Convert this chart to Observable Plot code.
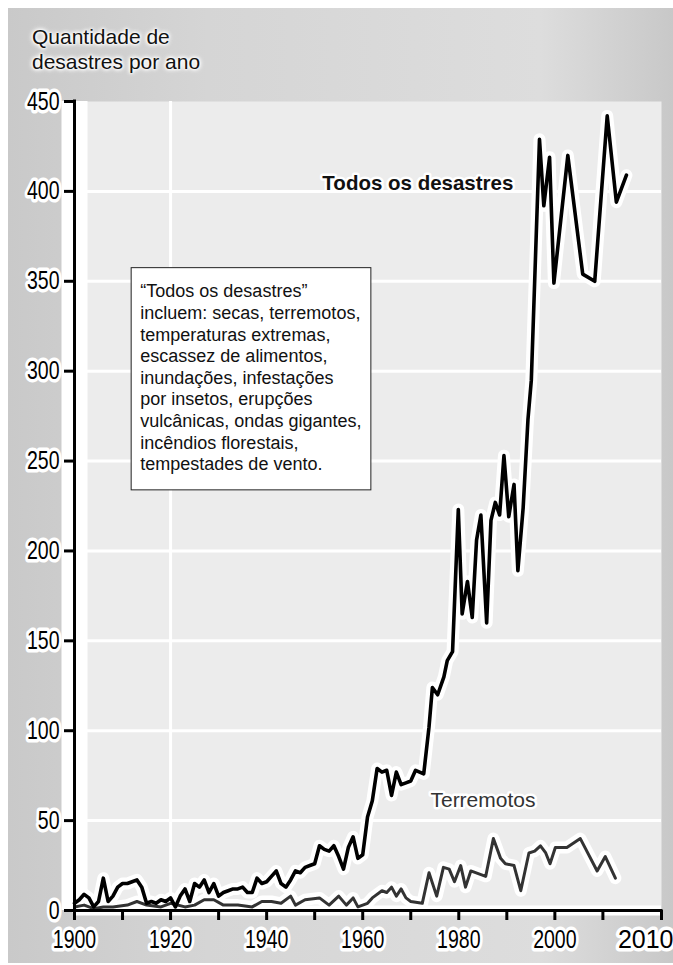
<!DOCTYPE html>
<html>
<head>
<meta charset="utf-8">
<script src="https://cdn.jsdelivr.net/npm/d3@7"></script>
<script src="https://cdn.jsdelivr.net/npm/@observablehq/plot@0.6"></script>
<style>
html, body { margin: 0; padding: 0; background: #fff; }
#wrap { position: relative; width: 673px; height: 965px; overflow: hidden; background: #fff; }
#bg { position: absolute; left: 8px; top: 8px; right: 0; bottom: 2px;
  background: linear-gradient(90deg, #c9c9c9 0, #d5d5d5 30%, #dddddd 80%, #c8c8c8 100%); }
#chart { position: absolute; left: 0; top: 0; }
#title { position: absolute; left: 32px; top: 24px; font: 21px/25px "Liberation Sans", Arial, sans-serif; color: #111;
  text-shadow: 0 0 2px #fff, 0 0 3px #fff, 0 0 4px #fff, 0 0 5px #fff, 0 0 6px #fff; }
</style>
</head>
<body>
<div id="wrap">
  <div id="bg"></div>
  <div id="chart"></div>
  <div id="title">Quantidade de<br>desastres por ano</div>
</div>
<script>
// ---- data ----
const allYears = [1900,1901,1902,1903,1904,1905,1906,1907,1908,1909,1910,1911,1912,1913,1914,1915,1916,1917,1918,1919,
  1920,1921,1922,1923,1924,1925,1926,1927,1928,1929,1930,1931,1932,1933,1934,1935,1936,1937,1938,1939,
  1940,1941,1942,1943,1944,1945,1946,1947,1948,1949,1950,1951,1952,1953,1954,1955,1956,1957,1958,1959,
  1960,1961,1962,1963,1964,1965,1966,1967,1968,1969,1970,1971,1972.7,1973.8,1974.5,1975.6,1976.9,1977.6,1978.7,
  1979.9,1980.7,1981.8,1982.8,1983.7,1984.6,1985.8,1986.7,1987.6,1988.5,1989.4,1990.4,1991.5,1992.3,1993.4,1994.4,1995.1,
  1996.8,1997.7,1998.9,1999.8,2002.7,2005.8,2008.3,2010.9,2012.8,2014.9];
const allValues = [4,6,9,7,2,5,18,5,8,13,15,15,16,17,13,4,5,4,6,5,
  7,2,8,12,5,15,13,17,10,15,8,10,11,12,12,13,10,10,18,15,
  16,19,22,15,13,17,22,21,24,25,26,36,34,33,36,30,23,35,41,29,
  31,52,61,79,77,78,64,77,70,71,72,78,76,102,124,120,130,139,144,
  223,165,183,163,206,220,160,217,227,220,253,219,237,189,224,273,295,
  429,392,419,349,420,354,350,442,394,409];

const quakeYears = [1900,1902,1904,1906,1908,1911,1913,1915,1918,1920,1923,1925,1927,1929,1931,1934,1937,1939,1941,1943,
  1945,1946,1948,1951,1953,1955,1956.6,1958,1959,1961,1962,1964,1965,1966,1967,1968,1969,1970,1972.4,1973.8,
  1975.4,1976.8,1978,1979.1,1980.4,1981.4,1982.5,1985.6,1987.2,1988.7,1989.7,1991.5,1992.9,1994.6,1995.8,1997,1998.1,1999,
  2000.1,2002.5,2005.3,2008.8,2010.5,2012.6];
const quakeValues = [2,3,1,2,2,3,5,3,2,4,2,3,6,6,3,3,2,5,5,4,
  8,3,6,7,3,8,3,7,2,4,7,11,10,13,8,12,7,5,4,21,
  8,24,23,16,25,13,22,19,40,29,26,25,11,32,33,36,32,26,
  35,35,40,22,30,18];

const yTicks = [0,50,100,150,200,250,300,350,400,450];
const xTickYears = [1900,1910,1920,1930,1940,1950,1960,1970,1980,1990,2000,2010];
const xLabelYears = [1900,1920,1940,1960,1980,2000];
const xEndLabel = "2010";
const seriesLabels = ["Todos os desastres", "Terremotos"];
const noteLines = ["\u201CTodos os desastres\u201D", "incluem: secas, terremotos,", "temperaturas extremas,",
  "escassez de alimentos,", "inundações, infestações", "por insetos, erupções",
  "vulcânicas, ondas gigantes,", "incêndios florestais,", "tempestades de vento."];

// ---- build tables ----
const allData = allYears.map((y, i) => ({year: y, value: allValues[i]}));
const quakeData = quakeYears.map((y, i) => ({year: y, value: quakeValues[i]}));

const xEnd = 2022.2;
const sans = "'Liberation Sans', Arial, sans-serif";
const tickFont = 25;

const chart = Plot.plot({
  width: 673,
  height: 965,
  marginTop: 101,
  marginBottom: 55,
  marginLeft: 74,
  marginRight: 12,
  style: {background: "transparent", overflow: "visible"},
  x: {domain: [1900, xEnd], axis: null},
  y: {domain: [0, 450], axis: null},
  marks: [
    Plot.frame({fill: "#ececec", stroke: null}),
    Plot.ruleY(yTicks.filter(d => d > 0 && d < 450), {stroke: "#fff", strokeWidth: 3}),
    Plot.ruleX([1920], {stroke: "#fff", strokeWidth: 3}),
    Plot.ruleX([1900], {stroke: "#fff", strokeWidth: 26}),
    Plot.ruleY([0], {stroke: "#fff", strokeWidth: 10}),
    // note box
    Plot.rect([noteLines], {x1: 1911.9, x2: 1961.8, y1: 233.7, y2: 357.3, fill: "#fff", stroke: "#222", strokeWidth: 1}),
    Plot.text([noteLines.join("\n")], {x: 1913.7, y: 349.6, text: d => d, textAnchor: "start", lineAnchor: "top",
      lineHeight: 1.2, fontSize: 18, fontFamily: sans, fill: "#111"}),
    // halos
    Plot.line(quakeData, {x: "year", y: "value", stroke: "#fff", strokeWidth: 12, strokeLinejoin: "round", strokeLinecap: "round"}),
    Plot.line(allData, {x: "year", y: "value", stroke: "#fff", strokeWidth: 12, strokeLinejoin: "round", strokeLinecap: "round"}),
    // series
    Plot.line(quakeData, {x: "year", y: "value", stroke: "#333", strokeWidth: 3, strokeLinejoin: "round"}),
    Plot.line(allData, {x: "year", y: "value", stroke: "#000", strokeWidth: 3.6, strokeLinejoin: "round"}),
    // series labels
    Plot.text([seriesLabels[0]], {x: 1951.6, y: 408.8, text: d => d, textAnchor: "start", lineAnchor: "top",
      fontSize: 20.5, fontWeight: "bold", fontFamily: sans, fill: "#111", stroke: "#fff", strokeWidth: 5}),
    Plot.text([seriesLabels[1]], {x: 1974.1, y: 65.7, text: d => d, textAnchor: "start", lineAnchor: "top",
      fontSize: 21, fontFamily: sans, fill: "#333", stroke: "#fff", strokeWidth: 5}),
    // axes
    Plot.ruleX([1900], {stroke: "#000", strokeWidth: 3, strokeLinecap: "square"}),
    Plot.ruleY([0], {stroke: "#000", strokeWidth: 3, strokeLinecap: "square"}),
    Plot.axisY({ticks: yTicks, tickSize: 10, tickPadding: 5, strokeWidth: 3, tickFormat: d => String(d),
      fontSize: tickFont, fontFamily: sans, color: "#000", textStroke: "#fff", textStrokeWidth: 7, label: null}),
    Plot.axisX({ticks: xTickYears.concat([xEnd]), tickSize: 10, strokeWidth: 3, tickFormat: () => "", label: null, color: "#000"}),
    Plot.axisX({ticks: xLabelYears, tickSize: 0, tickPadding: 20, tickFormat: d => String(d),
      fontSize: tickFont, fontFamily: sans, color: "#000", textStroke: "#fff", textStrokeWidth: 7, label: null}),
    Plot.text([xEndLabel], {x: xEnd, frameAnchor: "bottom", dy: 20, dx: 12, lineAnchor: "top", textAnchor: "end",
      text: d => d, fontSize: tickFont, fontFamily: sans, fill: "#000", stroke: "#fff", strokeWidth: 7,
      ariaLabel: "x-axis end label"})
  ]
});

// condense the tick-label digits horizontally (the reference uses a narrow face)
const squeeze = 0.78;
chart.querySelectorAll('g[aria-label="y-axis tick label"] text, g[aria-label="x-axis tick label"] text, g[aria-label="x-axis end label"] text')
  .forEach(el => {
    const t = el.getAttribute("transform");
    if (t) {
      el.setAttribute("transform", t + ` scale(${squeeze},1)`);
    } else {
      const x = el.getAttribute("x") || 0, y = el.getAttribute("y") || 0;
      el.removeAttribute("x"); el.removeAttribute("y");
      el.setAttribute("transform", `translate(${x},${y}) scale(${squeeze},1)`);
    }
  });

document.getElementById("chart").append(chart);
</script>
</body>
</html>
